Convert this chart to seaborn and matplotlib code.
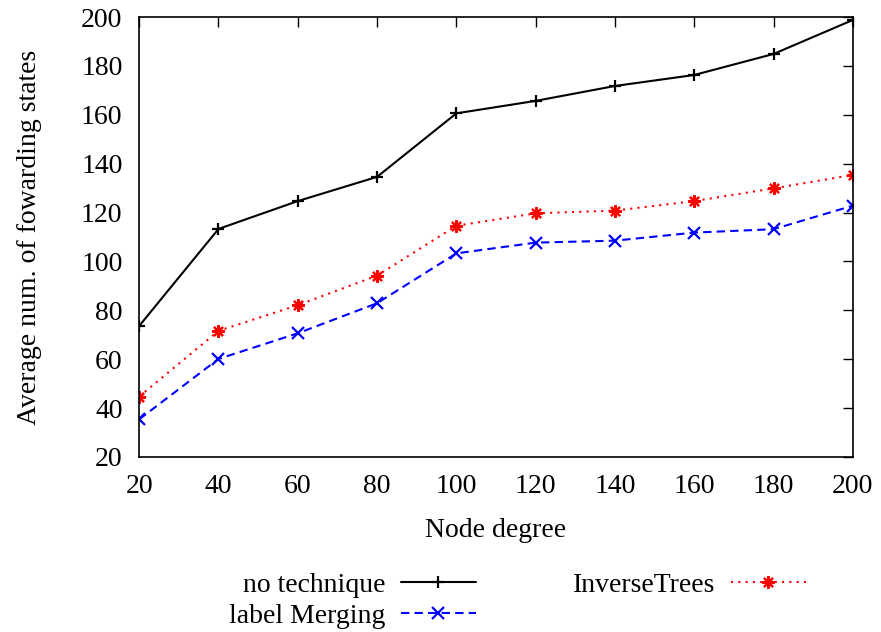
import matplotlib
matplotlib.use("Agg")
import matplotlib.pyplot as plt
import seaborn as sns
import pandas as pd

node_degree = [20, 40, 60, 80, 100, 120, 140, 160, 180, 200]
no_technique = [73.6, 113.3, 124.7, 134.6, 160.6, 165.7, 171.8, 176.3, 184.9, 198.8]
label_merging = [35.4, 60.1, 70.6, 82.9, 103.3, 107.7, 108.5, 111.8, 113.2, 122.8]
inverse_trees = [44.7, 71.6, 82.1, 94.2, 114.6, 119.7, 120.8, 124.7, 129.9, 135.4]

series_names = ["no technique", "label Merging", "InverseTrees"]
series_values = [no_technique, label_merging, inverse_trees]

df = pd.DataFrame({
    "x": node_degree * 3,
    "y": [v for vals in series_values for v in vals],
    "series": [n for n, vals in zip(series_names, series_values) for _ in vals],
})

sns.set_theme(style="white")
plt.rcParams["font.family"] = ["Liberation Serif", "DejaVu Serif"]
plt.rcParams["text.color"] = "black"
plt.rcParams["axes.labelcolor"] = "black"
FS = 20

fig = plt.figure(figsize=(8.81, 6.32), dpi=100)
ax = fig.add_axes([0.158, 0.277, 0.81, 0.696])

palette = {"no technique": "black", "label Merging": "blue", "InverseTrees": "red"}
markers = {"no technique": "+", "label Merging": "x", "InverseTrees": (8, 2, 0)}
dashes = {"no technique": "", "label Merging": (4, 2.5), "InverseTrees": (1, 2.5)}

sns.lineplot(data=df, x="x", y="y", hue="series", style="series",
             hue_order=series_names, style_order=series_names,
             palette=palette, markers=markers, dashes=dashes,
             markersize=9, markeredgewidth=1.6, linewidth=1.5, ax=ax, legend=True)

for ln in ax.lines:
    ln.set_markeredgecolor(ln.get_color())
    ln.set_markerfacecolor(ln.get_color())

ax.set_xlim(20, 200)
ax.set_ylim(20, 200)
ax.set_xticks(node_degree)
ax.set_yticks(range(20, 201, 20))
ax.tick_params(direction="in", length=7, width=1, top=True, right=True,
               labelsize=FS, colors="black", pad=12)
for s in ax.spines.values():
    s.set_color("black")
    s.set_linewidth(1.2)
ax.set_xlabel("Node degree", fontsize=FS, labelpad=14, color="black")
ax.set_ylabel("Average num. of fowarding states", fontsize=FS, labelpad=28, color="black")

h, l = ax.get_legend_handles_labels()
for hd in h:
    hd.set_markeredgecolor(hd.get_color())
    hd.set_markerfacecolor(hd.get_color())
leg = ax.legend(h, l, ncol=2, loc="upper center", bbox_to_anchor=(0.53, -0.205),
                frameon=False, markerfirst=False, fontsize=FS, handlelength=2.7,
                columnspacing=3.5, labelspacing=0.2, handletextpad=0.55)
for t in leg.get_texts():
    t.set_ha("right")
    t.set_color("black")

fig.savefig("out.png", dpi=100)
